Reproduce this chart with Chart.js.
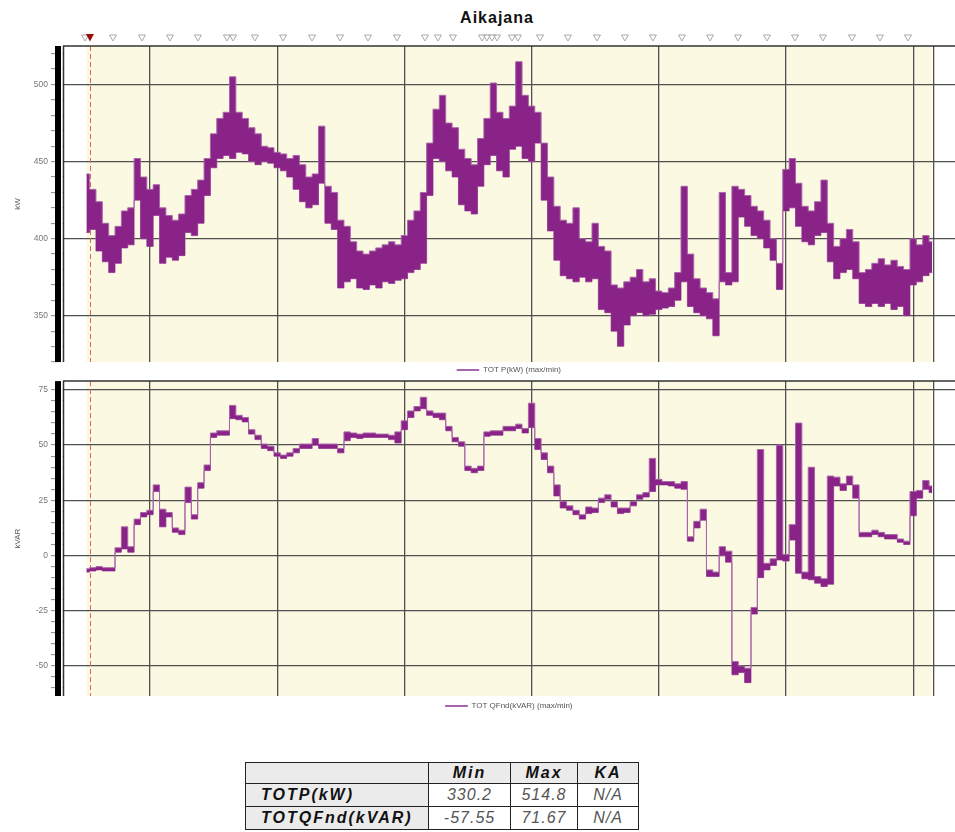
<!DOCTYPE html>
<html>
<head>
<meta charset="utf-8">
<title>Aikajana</title>
<script src="https://cdn.jsdelivr.net/npm/chart.js@4.4.1/dist/chart.umd.min.js"></script>
<style>
  html, body { margin: 0; padding: 0; background: #fff; }
  body { position: relative; width: 955px; height: 832px; overflow: hidden; font-family: "Liberation Sans", Arial, sans-serif; }
  #title { position: absolute; top: 9px; left: 0; width: 994px; text-align: center; font-size: 16px; font-weight: bold; letter-spacing: 1px; color: #111; }
  canvas { position: absolute; left: 0; }
  #pChart { top: 0; }
  #qChart { top: 373px; }
  #stats { position: absolute; left: 245px; top: 762px; border-collapse: collapse; table-layout: fixed; width: 393px; font-size: 16px; font-style: italic; }
  #stats th, #stats td { border: 1px solid #222; padding: 0; height: 22px; line-height: 20px; }
  #stats th { background: #ebebeb; font-weight: bold; letter-spacing: 2px; color: #111; text-align: center; }
  #stats th.row { text-align: left; padding-left: 15px; }
  #stats tr:first-child th { height: 20px; }
  #stats td { text-align: center; color: #555; letter-spacing: 1px; }
</style>
</head>
<body>
<div id="title">Aikajana</div>
<canvas id="pChart" width="955" height="384"></canvas>
<canvas id="qChart" width="955" height="347"></canvas>
<table id="stats"></table>
<script>
// time axis in grid units (one vertical grid line per unit)
const t0 = -0.50;
const dt = 0.05;
const xMin = -0.684;
const xMax = 6.329;
const gridTimes = [0, 1, 2, 3, 4, 5, 6, 6.158];
const cursorTime = -0.472;
const markerTimes = [-0.511, -0.291, -0.063, 0.157, 0.377, 0.605, 0.653, 0.825, 1.046, 1.274,
  1.494, 1.714, 1.942, 2.162, 2.264, 2.382, 2.610, 2.649, 2.689, 2.728, 2.846, 2.893, 3.066,
  3.286, 3.514, 3.734, 3.954, 4.182, 4.403, 4.623, 4.851, 5.071, 5.291, 5.519, 5.739, 5.959];

// TOT P (kW), max and min per interval
const pMax = [442, 432, 424, 410, 402, 408, 418, 420, 452, 440,
  432, 435, 420, 415, 412, 416, 428, 432, 438, 452,
  468, 478, 482, 505, 482, 478, 472, 468, 460, 459,
  456, 455, 452, 454, 448, 440, 442, 473, 434, 430,
  412, 408, 398, 392, 390, 392, 394, 396, 398, 396,
  402, 412, 418, 430, 462, 484, 493, 475, 472, 458,
  452, 448, 465, 478, 501, 482, 478, 486, 514.8, 493,
  486, 482, 462, 440, 421, 412, 410, 420, 400, 398,
  410, 395, 392, 370, 368, 372, 375, 380, 372, 374,
  366, 365, 368, 378, 434, 390, 374, 368, 365, 361,
  430, 378, 434, 432, 428, 421, 418, 412, 400, 384,
  445, 452, 436, 421, 418, 424, 438, 410, 395, 400,
  406, 398, 378, 380, 384, 387, 383, 386, 382, 380,
  400, 396, 402, 398];
const pMin = [404, 406, 392, 385, 378, 384, 394, 396, 425, 400,
  395, 415, 384, 388, 386, 389, 404, 402, 410, 428,
  446, 452, 454, 452, 456, 455, 450, 448, 450, 449,
  446, 444, 440, 432, 424, 420, 422, 436, 410, 406,
  368, 372, 374, 368, 367, 370, 368, 372, 371, 373,
  374, 378, 380, 384, 428, 452, 450, 444, 440, 422,
  418, 416, 434, 448, 454, 444, 440, 458, 460, 452,
  450, 462, 425, 405, 386, 376, 374, 372, 375, 372,
  374, 354, 352, 340, 330.2, 344, 350, 352, 350, 351,
  354, 355, 356, 360, 372, 356, 352, 350, 348, 337,
  372, 370, 372, 414, 408, 402, 400, 394, 386, 367,
  418, 420, 408, 398, 396, 402, 404, 385, 374, 378,
  380, 374, 358, 356, 358, 356, 358, 354, 356, 350,
  370, 372, 376, 378];

// TOT QFnd (kVAR), max and min per interval
const qMax = [-6, -5.5, -5, -5.5, -5.5, 3.5, 13, 4, 16.5, 19.5,
  20.5, 32, 21, 19.5, 12.5, 11.5, 31, 18.5, 33, 41,
  55.5, 56.5, 56.5, 68, 63.5, 62.5, 57, 54.5, 50.5, 49.5,
  46.5, 45.5, 46.5, 48.5, 50.5, 50.5, 53, 50.5, 50.5, 50.5,
  48.5, 56, 55.5, 55, 55.5, 55.5, 55, 55, 54.5, 56,
  61, 65.5, 67.5, 71.67, 65.5, 64.5, 64.5, 58.5, 53.5, 51.5,
  40.5, 39.5, 40.5, 56, 56.5, 56.5, 58.5, 58.5, 59.5, 57.5,
  69, 53, 46.5, 40.5, 32, 24.5, 22.5, 20.5, 18.5, 22,
  21.5, 26, 27.5, 24.5, 21.5, 21.5, 24.5, 27.5, 28.5, 44,
  34.5, 33.5, 33.5, 32.5, 33.5, 8.5, 15.5, 21, -6.5, -7.5,
  4, 2, -48, -50, -51, -23.5, 48, -3.5, -1.5, 50,
  0.5, 14, 60, -7.5, 40, -9.5, -10.5, 36, 35.5, 32.5,
  36, 32, 10.5, 10.5, 11.5, 10.5, 9.5, 9.5, 7.5, 6.5,
  29, 29.5, 34, 31.5];
const qMin = [-7.5, -7, -6.5, -7, -7, 1.5, 3, 1.5, 14, 17.5,
  18.5, 29, 13, 17.5, 10.5, 9.5, 24, 16.5, 30.5, 38.5,
  53.5, 54.5, 54.5, 62, 61.5, 60.5, 55, 52.5, 48.5, 47.5,
  45, 44, 45, 46.5, 48.5, 48.5, 50, 48.5, 48.5, 48.5,
  46.5, 52, 53.5, 53, 53.5, 53.5, 53.5, 53.5, 52.5, 51,
  57, 62.5, 65.5, 66.5, 63.5, 62.5, 61.5, 56.5, 51.5, 49.5,
  38.5, 37.5, 38.5, 54, 54.5, 54.5, 56.5, 56.5, 57.5, 55.5,
  58, 48, 43.5, 37.5, 27, 21.5, 20.5, 18.5, 16.5, 19,
  19.5, 24, 25.5, 22, 19, 19.5, 22.5, 25.5, 26.5, 29,
  32, 32, 31.5, 30.5, 30, 6.5, 12.5, 16, -9.5, -9.5,
  0, -3, -54, -53, -57.55, -26.5, -10, -6.5, -4.5, -2,
  -2.5, 7, -8, -10.5, -11, -12.5, -14, -13, 31.5, 29.5,
  32, 26, 8.5, 8.5, 9.5, 8.5, 7.5, 7.5, 6, 5,
  18, 26, 30, 28.5];

const kwTicks = [320, 330, 340, 350, 360, 370, 380, 390, 400, 410, 420, 430, 440, 450, 460, 470, 480, 490, 500, 510, 520];
const kvarTicks = [-60, -55, -50, -45, -40, -35, -30, -25, -20, -15, -10, -5, 0, 5, 10, 15, 20, 25, 30, 35, 40, 45, 50, 55, 60, 65, 70, 75];

const statNames = ['TOTP(kW)', 'TOTQFnd(kVAR)'];
const statMin = ['330.2', '-57.55'];
const statMax = ['514.8', '71.67'];
const statKA = ['N/A', 'N/A'];

const times = pMax.map((_, i) => +(t0 + i * dt).toFixed(3));

Chart.defaults.font.family = '"Liberation Sans", Arial, sans-serif';
Chart.defaults.color = '#666';

const GRID = '#505050';

// cream plot background, cursor line and the axis frame
const framePlugin = {
  id: 'frame',
  beforeDraw(chart) {
    const { ctx, chartArea: a, scales: { x } } = chart;
    const x0 = x.getPixelForValue(times[0]);
    const x1 = x.getPixelForValue(times[times.length - 1]);
    ctx.save();
    ctx.fillStyle = '#fcf9e3';
    ctx.fillRect(x0, a.top, x1 - x0, a.bottom - a.top);
    ctx.restore();
  },
  beforeDatasetsDraw(chart) {
    const { ctx, chartArea: a, scales: { x } } = chart;
    const cx = Math.round(x.getPixelForValue(cursorTime)) + 0.5;
    ctx.save();
    ctx.strokeStyle = '#d46a6a';
    ctx.lineWidth = 1;
    ctx.setLineDash([5, 3]);
    ctx.beginPath();
    ctx.moveTo(cx, a.top);
    ctx.lineTo(cx, a.bottom);
    ctx.stroke();
    ctx.restore();
  },
  afterDraw(chart) {
    const { ctx, chartArea: a } = chart;
    ctx.save();
    ctx.fillStyle = '#000';
    ctx.fillRect(a.left - 8, a.top, 6, a.bottom - a.top);
    ctx.fillStyle = '#fff';
    ctx.fillRect(a.left - 2, a.top, 1.5, a.bottom - a.top);
    ctx.strokeStyle = '#333';
    ctx.lineWidth = 1.5;
    ctx.beginPath();
    ctx.moveTo(a.left + 0.5, a.top);
    ctx.lineTo(a.left + 0.5, a.bottom);
    ctx.moveTo(a.left, a.top);
    ctx.lineTo(a.right, a.top);
    ctx.stroke();
    ctx.restore();
  }
};

// event triangles above the top plot
const markerPlugin = {
  id: 'markers',
  afterDraw(chart) {
    const { ctx, chartArea: a, scales: { x } } = chart;
    const py = a.top - 8;
    ctx.save();
    ctx.strokeStyle = '#a8a8a8';
    ctx.lineWidth = 1;
    markerTimes.forEach(t => {
      const px = x.getPixelForValue(t);
      ctx.beginPath();
      ctx.moveTo(px - 3.5, py - 3);
      ctx.lineTo(px + 3.5, py - 3);
      ctx.lineTo(px, py + 3);
      ctx.closePath();
      ctx.stroke();
    });
    const cx = x.getPixelForValue(cursorTime);
    ctx.fillStyle = '#9a0b0b';
    ctx.beginPath();
    ctx.moveTo(cx - 4, py - 4);
    ctx.lineTo(cx + 4, py - 4);
    ctx.lineTo(cx, py + 3.5);
    ctx.closePath();
    ctx.fill();
    ctx.restore();
  }
};

function band(label, hi, lo) {
  const pts = arr => arr.map((v, i) => ({ x: times[i], y: v }));
  return [
    { label: label, data: pts(hi), borderColor: '#a965a9', backgroundColor: '#8a2388',
      borderWidth: 1, pointRadius: 0, fill: '+1', stepped: 'middle' },
    { label: label + ' min', data: pts(lo), borderColor: '#a965a9', backgroundColor: '#8a2388',
      borderWidth: 1, pointRadius: 0, fill: false, stepped: 'middle' }
  ];
}

function yAxis(min, max, tickList, major, title) {
  return {
    type: 'linear', min: min, max: max, bounds: 'data',
    afterBuildTicks: s => { s.ticks = tickList.map(v => ({ value: v })); },
    afterFit: s => { s.width = 63; },
    ticks: { font: { size: 8.5 }, color: '#777', padding: 3, autoSkip: false,
      callback: v => (v % major === 0 ? v : '') },
    grid: { color: c => (c.tick && c.tick.value % major === 0 ? GRID : 'rgba(0,0,0,0)'),
      lineWidth: 1.3, tickColor: '#888', tickLength: 12, tickWidth: 1 },
    border: { display: false },
    title: { display: true, text: title, font: { size: 8 }, color: '#555', padding: { top: 13, bottom: 0 } }
  };
}

const xAxis = {
  type: 'linear', min: xMin, max: xMax, bounds: 'data',
  afterBuildTicks: s => { s.ticks = gridTimes.map(v => ({ value: v })); },
  ticks: { display: false },
  grid: { color: GRID, lineWidth: 1.3, drawTicks: false },
  border: { display: false }
};

function legendOpts(pad) {
  return {
    position: 'bottom', fullSize: false,
    labels: { boxWidth: 22, boxHeight: 1, padding: pad, font: { size: 8 }, color: '#555',
      filter: it => it.datasetIndex === 0 }
  };
}

new Chart(document.getElementById('pChart'), {
  type: 'line',
  data: { datasets: band('TOT P(kW) (max/min)', pMax, pMin) },
  options: {
    responsive: false, animation: false, devicePixelRatio: 1,
    layout: { padding: { top: 46, left: 0, right: 0, bottom: 0 } },
    scales: { x: xAxis, y: yAxis(320, 525, kwTicks, 50, 'kW') },
    plugins: { legend: legendOpts(4), tooltip: { enabled: false } }
  },
  plugins: [framePlugin, markerPlugin]
});

new Chart(document.getElementById('qChart'), {
  type: 'line',
  data: { datasets: band('TOT QFnd(kVAR) (max/min)', qMax, qMin) },
  options: {
    responsive: false, animation: false, devicePixelRatio: 1,
    layout: { padding: { top: 3, left: 0, right: 0, bottom: 0 } },
    scales: { x: xAxis, y: yAxis(-63.6, 79, kvarTicks, 25, 'kVAR') },
    plugins: { legend: legendOpts(6), tooltip: { enabled: false } }
  },
  plugins: [framePlugin]
});

// statistics table
const table = document.getElementById('stats');
let html = '<colgroup><col style="width:183px"><col style="width:82px"><col style="width:67px"><col style="width:61px"></colgroup>';
html += '<tr><th></th><th>Min</th><th>Max</th><th>KA</th></tr>';
statNames.forEach((n, i) => {
  html += '<tr><th class="row">' + n + '</th><td>' + statMin[i] + '</td><td>' + statMax[i] + '</td><td>' + statKA[i] + '</td></tr>';
});
table.innerHTML = html;
</script>
</body>
</html>
